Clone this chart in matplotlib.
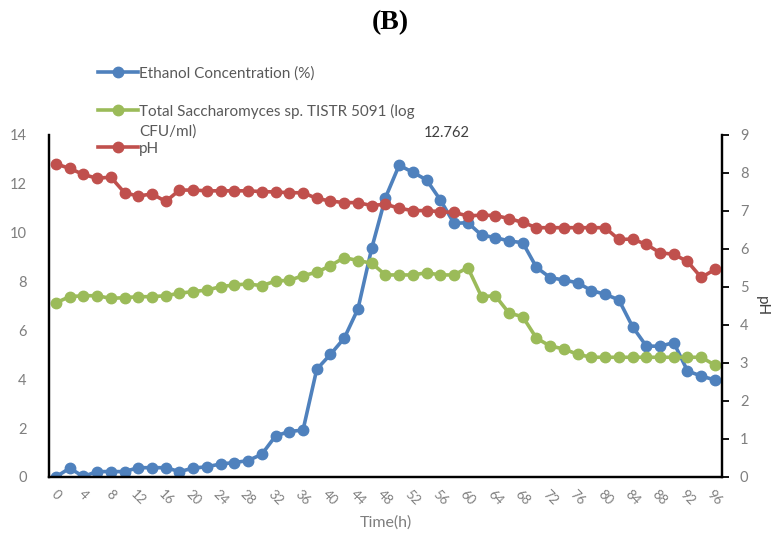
import numpy as np
import matplotlib.pyplot as plt

# 시간축 (2시간 간격)
time_h = list(range(0, 97, 2))

ethanol = [0.0, 0.36, 0.02, 0.22, 0.22, 0.22, 0.38, 0.38, 0.38, 0.22,
           0.36, 0.42, 0.53, 0.59, 0.67, 0.93, 1.68, 1.86, 1.92, 4.41,
           5.02, 5.68, 6.88, 9.36, 11.43, 12.762, 12.47, 12.16, 11.34, 10.38,
           10.41, 9.9, 9.8, 9.66, 9.59, 8.58, 8.16, 8.06, 7.95, 7.63,
           7.48, 7.25, 6.15, 5.36, 5.35, 5.5, 4.34, 4.13, 3.97]

yeast = [7.13, 7.38, 7.42, 7.42, 7.31, 7.34, 7.38, 7.38, 7.42, 7.52,
         7.59, 7.65, 7.79, 7.86, 7.9, 7.83, 8.02, 8.05, 8.24, 8.38,
         8.65, 8.98, 8.86, 8.75, 8.27, 8.27, 8.27, 8.36, 8.27, 8.27,
         8.57, 7.38, 7.42, 6.71, 6.56, 5.68, 5.36, 5.24, 5.02, 4.9,
         4.9, 4.9, 4.9, 4.9, 4.9, 4.9, 4.9, 4.9, 4.58]

ph = [8.24, 8.12, 7.96, 7.86, 7.89, 7.48, 7.39, 7.45, 7.25, 7.55,
      7.55, 7.53, 7.53, 7.53, 7.53, 7.51, 7.5, 7.48, 7.48, 7.33,
      7.26, 7.22, 7.22, 7.14, 7.18, 7.07, 7.01, 7.01, 6.98, 6.96,
      6.87, 6.89, 6.88, 6.8, 6.7, 6.56, 6.56, 6.56, 6.56, 6.56,
      6.56, 6.25, 6.26, 6.12, 5.9, 5.86, 5.67, 5.25, 5.46]

labels = ['Ethanol Concentration (%)',
          'Total Saccharomyces sp. TISTR 5091 (log',
          'pH']
label2_wrap = 'CFU/ml)'  # 두번째 범례 줄바꿈 부분

blue = '#4f81bd'
green = '#9bbb59'
red = '#c0504d'
gray = '#7f7f7f'
leg_color = '#595959'

plt.rcParams['font.family'] = ['Lato', 'DejaVu Sans']

fig = plt.figure(figsize=(7.72, 5.42), dpi=100)
ax = fig.add_axes([0.0635, 0.12, 0.8715, 0.631])
ax2 = ax.twinx()

style = dict(lw=2.6, marker='o', ms=7.5)
l1, = ax.plot(time_h, ethanol, color=blue, label=labels[0], **style)
l2, = ax.plot(time_h, yeast, color=green, label=labels[1], **style)
l3, = ax2.plot(time_h, ph, color=red, label=labels[2], **style)

# 최대값 라벨
imax = int(np.argmax(ethanol))
ax.annotate(f'{ethanol[imax]:.3f}', (time_h[imax], ethanol[imax]),
            xytext=(34, 23), textcoords='offset points', ha='center', va='center',
            fontsize=10.5, color='#404040')

ax.set_xlim(-1, 97)
ax.set_ylim(0, 14)
ax2.set_ylim(0, 9)
ax.set_xticks(time_h[::2])
ax.set_xticklabels([str(t) for t in time_h[::2]], rotation=-45, ha='center',
                   va='top', color=gray, fontsize=9.5)
ax.set_yticks(range(0, 15, 2))
ax2.set_yticks(range(0, 10))
ax.tick_params(axis='y', length=0, labelcolor=gray, labelsize=10.5, pad=16)
ax.tick_params(axis='x', length=0, pad=8)
ax2.tick_params(axis='y', length=5, width=1.3, direction='out', labelcolor=gray,
                labelsize=10.5, pad=8)

for a in (ax, ax2):
    a.spines['top'].set_visible(False)
    for s in ('left', 'right', 'bottom'):
        a.spines[s].set_linewidth(1.6)
        a.spines[s].set_color('black')

ax.set_xlabel('Time(h)', color=gray, fontsize=11.5, labelpad=6)
ax2.set_ylabel('pH', color='#404040', fontsize=11, rotation=270, labelpad=15)

fig.text(0.505, 0.958, '(B)', ha='center', va='center', fontsize=20,
         fontweight='bold', family='Liberation Serif')

leg = fig.legend(handles=[l1, l2, l3], loc='upper left', bbox_to_anchor=(0.119, 0.889),
                 frameon=False, fontsize=11, labelcolor=leg_color, handlelength=2.6,
                 handletextpad=0.1, labelspacing=1.5, borderaxespad=0)

# 두번째 범례 항목의 두번째 줄
fig.canvas.draw()
bb = leg.get_texts()[1].get_window_extent()
W, H = fig.get_size_inches() * fig.dpi
fig.text(bb.x0 / W, (bb.y0 + bb.y1) / 2 / H - 20 / H, label2_wrap, ha='left',
         va='center', fontsize=11, color=leg_color)

fig.savefig('out.png', dpi=100)
